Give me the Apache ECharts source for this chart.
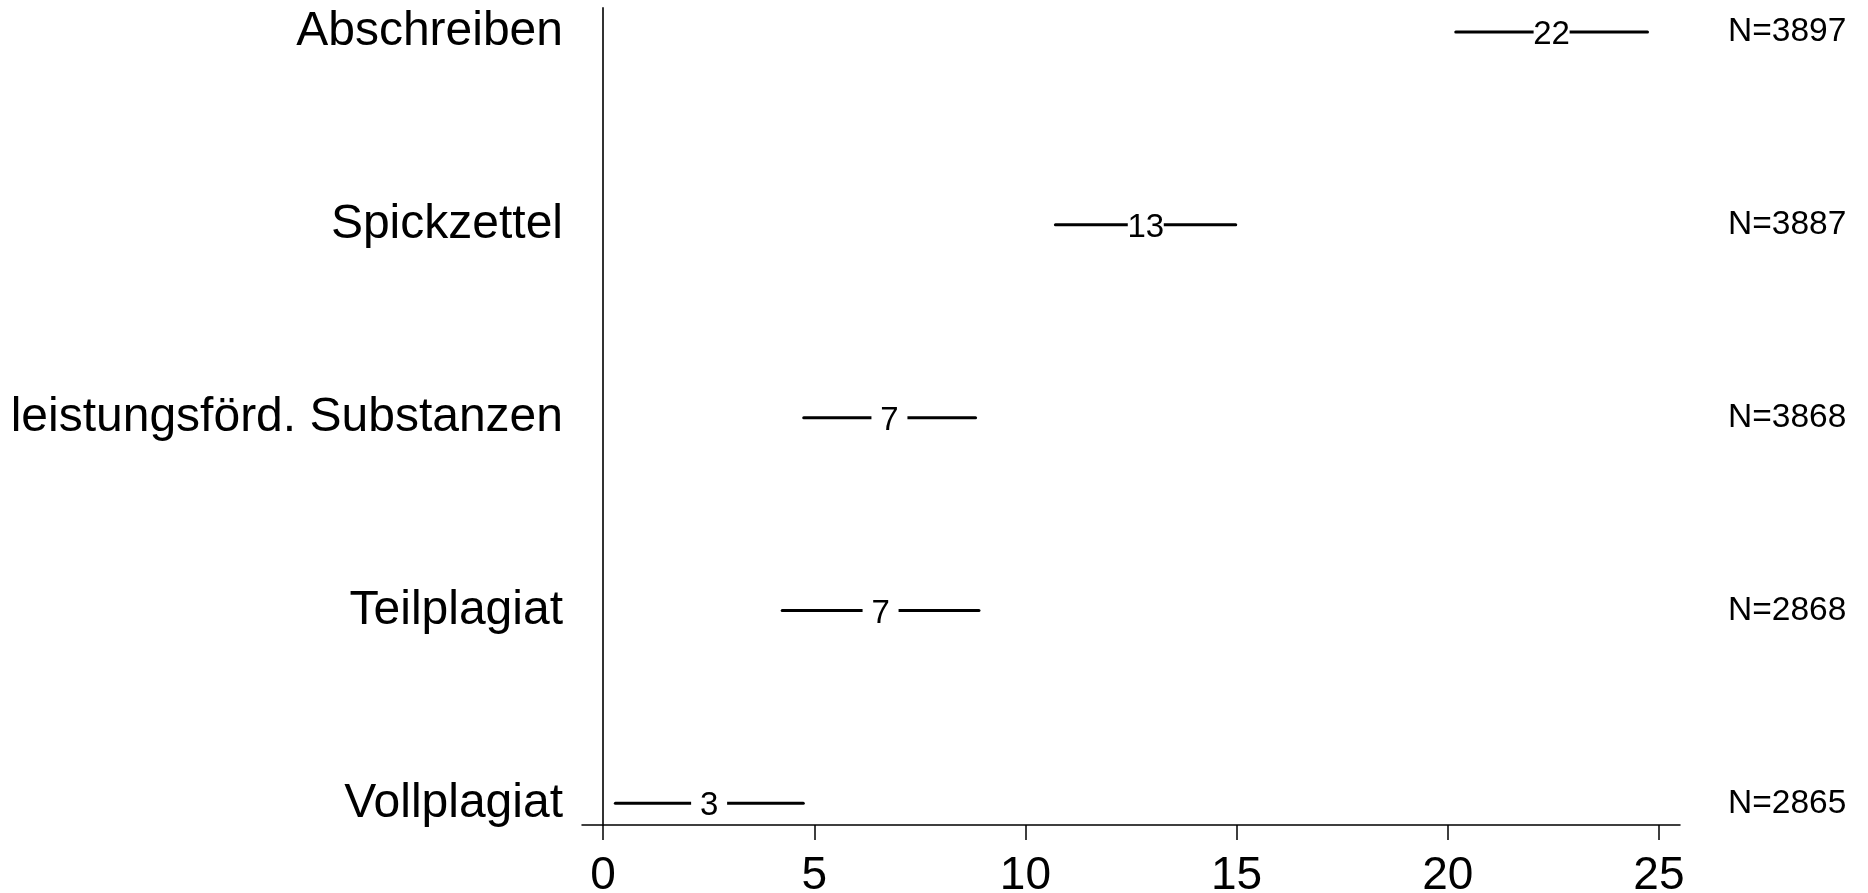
<!DOCTYPE html>
<html>
<head>
<meta charset="utf-8">
<title>Anteile mit Konfidenzintervallen</title>
<script src="https://cdn.jsdelivr.net/npm/echarts@6/dist/echarts.min.js"></script>
<style>
  html, body { margin: 0; padding: 0; background: #fff; }
  #chart { width: 1868px; height: 893px; }
</style>
</head>
<body>
<div id="chart"></div>
<script>
// Rows from top to bottom
const categories = ['Abschreiben', 'Spickzettel', 'leistungsförd. Substanzen', 'Teilplagiat', 'Vollplagiat'];
// Point estimate (%) and lower / upper bound of the interval
const estimates = [22.46, 12.85, 6.78, 6.57, 2.51];
const lowerBounds = [20.19, 10.71, 4.75, 4.24, 0.29];
const upperBounds = [24.73, 14.98, 8.82, 8.90, 4.74];
// Sample sizes shown on the right
const sampleSizes = ['N=3897', 'N=3887', 'N=3868', 'N=2868', 'N=2865'];
const xTicks = [0, 5, 10, 15, 20, 25];

const FONT = '"Liberation Sans", Arial, Helvetica, sans-serif';
const n = categories.length;
const rowPos = categories.map((_, i) => n - i);   // 5 at top … 1 at bottom
const labelFor = (v, list) => {
  const i = n - Math.round(v);
  return list[i] !== undefined ? list[i] : '';
};

const rows = categories.map((_, i) => [rowPos[i], lowerBounds[i], estimates[i], upperBounds[i]]);

const chart = echarts.init(document.getElementById('chart'), null, { renderer: 'canvas' });

chart.setOption({
  backgroundColor: '#ffffff',
  animation: false,
  grid: { left: 582, right: 188, top: 8, bottom: 68, containLabel: false, outerBoundsMode: 'none' },
  xAxis: {
    type: 'value',
    min: -0.5,
    max: 25.5,
    splitLine: { show: false },
    axisLine: { onZero: false, lineStyle: { color: '#000', width: 1.5 } },
    axisTick: { show: true, length: 15, lineStyle: { color: '#000', width: 1.5 }, customValues: xTicks },
    axisLabel: {
      customValues: xTicks,
      color: '#000',
      fontFamily: FONT,
      fontSize: 46,
      margin: 28
    }
  },
  yAxis: [
    {
      type: 'value',
      min: 0.8875,
      max: 5.1245,
      position: 'left',
      splitLine: { show: false },
      axisLine: { show: true, onZero: true, lineStyle: { color: '#333', width: 2 } },
      axisTick: { show: false },
      axisLabel: {
        customValues: rowPos,
        formatter: v => labelFor(v, categories),
        color: '#000',
        fontFamily: FONT,
        fontSize: 48,
        margin: 19,
        padding: [12, 0, 0, 0]
      }
    },
    {
      type: 'value',
      min: 0.8875,
      max: 5.1245,
      position: 'right',
      splitLine: { show: false },
      axisLine: { show: false, onZero: false },
      axisTick: { show: false },
      axisLabel: {
        customValues: rowPos,
        formatter: v => labelFor(v, sampleSizes),
        color: '#000',
        fontFamily: FONT,
        fontSize: 33.5,
        margin: 48,
        padding: [8, 0, 0, 0]
      }
    }
  ],
  series: [
    {
      type: 'custom',
      xAxisIndex: 0,
      yAxisIndex: 0,
      encode: { x: [1, 2, 3], y: 0 },
      data: rows,
      renderItem: (params, api) => {
        const y = api.value(0);
        const lo = api.coord([api.value(1), y]);
        const hi = api.coord([api.value(3), y]);
        const mid = api.coord([api.value(2), y]);
        return {
          type: 'group',
          children: [
            {
              type: 'line',
              shape: { x1: lo[0], y1: lo[1], x2: hi[0], y2: hi[1] },
              style: { stroke: '#000', lineWidth: 3, lineCap: 'round' }
            },
            {
              type: 'rect',
              shape: { x: mid[0] - 18, y: mid[1] - 14, width: 36, height: 28 },
              style: { fill: '#fff' }
            },
            {
              type: 'text',
              x: mid[0],
              y: mid[1] + 3,
              style: {
                text: String(Math.round(api.value(2))),
                fill: '#000',
                font: '33px ' + FONT,
                align: 'center',
                verticalAlign: 'middle'
              }
            }
          ]
        };
      }
    }
  ]
});
</script>
</body>
</html>
